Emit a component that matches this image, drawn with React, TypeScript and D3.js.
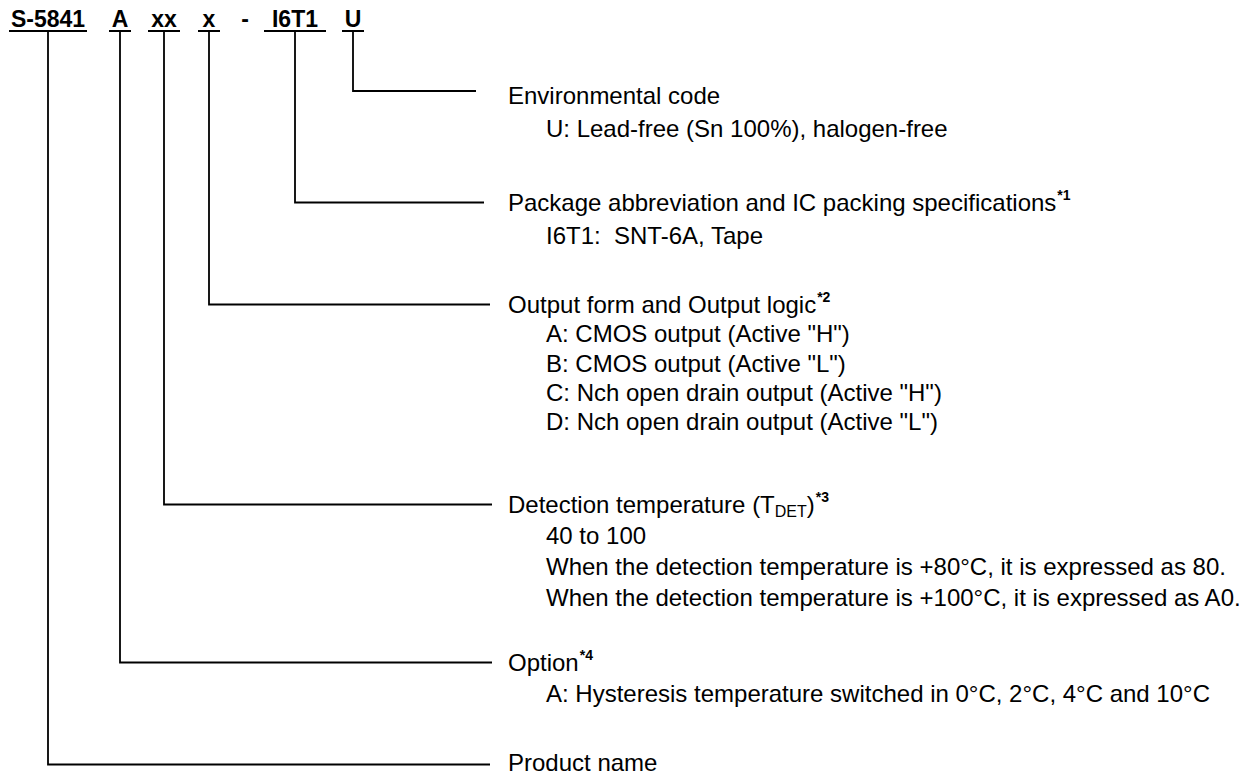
import * as d3 from "d3";

// Product code segments, left to right
const codeParts = ["S-5841", "A", "xx", "x", "-", "I6T1", "U"];

// Which segment each description belongs to, top to bottom
const describedParts = ["U", "I6T1", "x", "xx", "A", "S-5841"];
const headings = [
  "Environmental code",
  "Package abbreviation and IC packing specifications",
  "Output form and Output logic",
  "Detection temperature (T",
  "Option",
  "Product name",
];
const headingSubs = ["", "", "", "DET", "", ""];
const headingTails = ["", "", "", ")", "", ""];
const notes = ["", "*1", "*2", "*3", "*4", ""];
const details = [
  ["U: Lead-free (Sn 100%), halogen-free"],
  ["I6T1:  SNT-6A, Tape"],
  [
    'A: CMOS output (Active "H")',
    'B: CMOS output (Active "L")',
    'C: Nch open drain output (Active "H")',
    'D: Nch open drain output (Active "L")',
  ],
  [
    "40 to 100",
    "When the detection temperature is +80°C, it is expressed as 80.",
    "When the detection temperature is +100°C, it is expressed as A0.",
  ],
  ["A: Hysteresis temperature switched in 0°C, 2°C, 4°C and 10°C"],
  [],
];

// layout
const width = 1254;
const height = 776;
const font = "'Liberation Sans', Arial, Helvetica, sans-serif";
const partCenter: Record<string, number> = {
  "S-5841": 48,
  A: 120,
  xx: 164,
  x: 209,
  "-": 245,
  I6T1: 295,
  U: 353,
};
const underlineWidth: Record<string, number> = {
  "S-5841": 78,
  A: 22,
  xx: 32,
  x: 22,
  "-": 0,
  I6T1: 62,
  U: 22,
};
const codeBaseline = 27;
const underlineY = 31;
const headingX = 508;
const detailX = 546;
const headingBaselines = [104, 211, 313, 513, 671, 771];
const lineSteps = [33, 33, 29.3, 31, 31, 31];
const leaderOffsets = [13, 8.5, 8.5, 8.5, 8.5, 6.5];
const leaderEnds = [476, 484, 490, 492, 492, 490];

export default function App() {
  const line = d3.line();

  return (
    <svg
      width={width}
      height={height}
      style={{ position: "absolute", left: 0, top: 0, display: "block", background: "#fff" }}
      fontFamily={font}
    >
      {/* code header */}
      {codeParts.map((p) => (
        <g key={p}>
          <text
            x={partCenter[p]}
            y={codeBaseline}
            textAnchor="middle"
            fontSize={23}
            fontWeight="bold"
            fill="#000"
          >
            {p}
          </text>
          {underlineWidth[p] > 0 && (
            <line
              x1={partCenter[p] - underlineWidth[p] / 2}
              x2={partCenter[p] + underlineWidth[p] / 2}
              y1={underlineY}
              y2={underlineY}
              stroke="#000"
              strokeWidth={2}
            />
          )}
        </g>
      ))}

      {/* leader lines */}
      {describedParts.map((p, i) => {
        const y = headingBaselines[i] - leaderOffsets[i];
        return (
          <path
            key={p}
            d={line([
              [partCenter[p], underlineY],
              [partCenter[p], y],
              [leaderEnds[i], y],
            ]) ?? ""}
            fill="none"
            stroke="#000"
            strokeWidth={1.8}
          />
        );
      })}

      {/* descriptions */}
      {headings.map((h, i) => (
        <g key={h} fill="#000">
          <text x={headingX} y={headingBaselines[i]} fontSize={24}>
            {h}
            {headingSubs[i] && (
              <tspan fontSize={16} dy={4}>
                {headingSubs[i]}
              </tspan>
            )}
            {headingTails[i] && (
              <tspan fontSize={24} dy={-4}>
                {headingTails[i]}
              </tspan>
            )}
            {notes[i] && (
              <tspan fontSize={14} fontWeight="bold" dx={1} dy={-11}>
                {notes[i]}
              </tspan>
            )}
          </text>
          {details[i].map((d, j) => (
            <text
              key={j}
              x={detailX}
              y={headingBaselines[i] + (j + 1) * lineSteps[i]}
              fontSize={24}
              style={{ whiteSpace: "pre" }}
            >
              {d}
            </text>
          ))}
        </g>
      ))}
    </svg>
  );
}
